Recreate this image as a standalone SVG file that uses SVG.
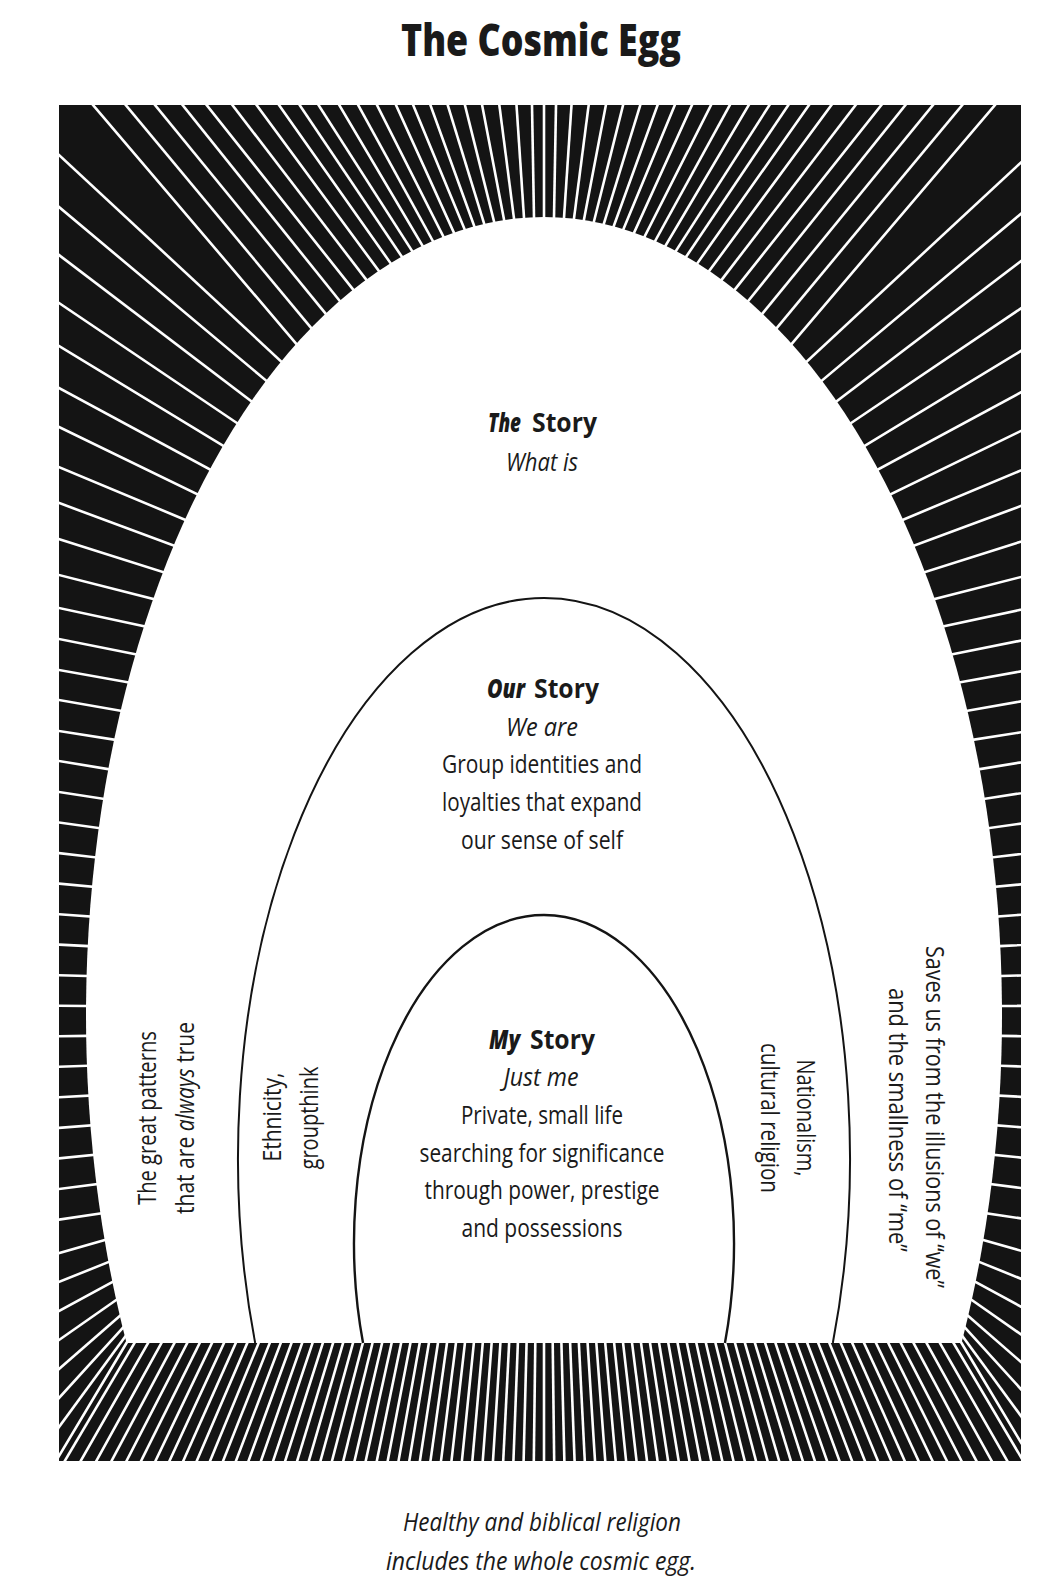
<svg xmlns="http://www.w3.org/2000/svg" width="1063" height="1594" viewBox="0 0 1063 1594">
<style>
.t{font-family:"Open Sans","Noto Sans","Liberation Sans",sans-serif;fill:#1a1a1a}
.title{font-size:44px;font-weight:800}
.head{font-size:27px;font-weight:700}
.bi{font-size:27px;font-style:italic;font-weight:800}
.body{font-size:26px;font-weight:400}
.it{font-style:italic}
.egg{fill:none;stroke:#141414}
</style>
<defs>
<clipPath id="frameClip"><rect x="59" y="105" width="962" height="1356"/></clipPath>
<line id="fanRay" x1="544" y1="650" x2="544" y2="1700"/>
</defs>
<rect width="1063" height="1594" fill="#fff"/>
<text class="t title" x="541" y="56" text-anchor="middle" textLength="280" lengthAdjust="spacingAndGlyphs">The Cosmic Egg</text>
<g id="frame">
<rect x="59" y="105" width="962" height="1356" fill="#141414"/>
</g>
<g id="sunburst" clip-path="url(#frameClip)" stroke="#fff" stroke-width="2.6" stroke-linecap="square" fill="none">
<g id="raysLeft">
<line x1="534.0" y1="217.2" x2="531.6" y2="82.6"/>
<line x1="524.0" y1="217.8" x2="515.0" y2="82.4"/>
<line x1="514.0" y1="218.7" x2="496.4" y2="82.3"/>
<line x1="504.1" y1="220.0" x2="477.7" y2="82.0"/>
<line x1="494.1" y1="221.7" x2="459.1" y2="81.7"/>
<line x1="484.2" y1="223.8" x2="440.4" y2="81.2"/>
<line x1="474.3" y1="226.3" x2="421.6" y2="80.7"/>
<line x1="464.5" y1="229.1" x2="402.9" y2="80.2"/>
<line x1="453.9" y1="232.6" x2="384.4" y2="79.5"/>
<line x1="443.3" y1="236.5" x2="363.7" y2="78.7"/>
<line x1="432.8" y1="240.9" x2="343.2" y2="77.8"/>
<line x1="422.4" y1="245.6" x2="322.6" y2="76.9"/>
<line x1="412.0" y1="250.9" x2="299.8" y2="75.8"/>
<line x1="401.7" y1="256.5" x2="279.2" y2="74.7"/>
<line x1="390.5" y1="263.1" x2="256.7" y2="73.4"/>
<line x1="378.7" y1="270.8" x2="232.1" y2="71.8"/>
<line x1="366.2" y1="279.6" x2="205.6" y2="70.1"/>
<line x1="353.2" y1="289.6" x2="177.3" y2="68.1"/>
<line x1="339.6" y1="300.8" x2="151.1" y2="65.8"/>
<line x1="325.6" y1="313.6" x2="120.9" y2="63.3"/>
<line x1="311.1" y1="327.8" x2="88.6" y2="60.4"/>
<line x1="296.3" y1="343.8" x2="52.3" y2="57.2"/>
<line x1="281.2" y1="361.5" x2="14.6" y2="113.7"/>
<line x1="266.1" y1="380.6" x2="17.6" y2="172.3"/>
<line x1="251.3" y1="401.3" x2="20.5" y2="225.7"/>
<line x1="236.9" y1="423.0" x2="23.4" y2="279.0"/>
<line x1="223.0" y1="445.7" x2="26.2" y2="326.1"/>
<line x1="209.7" y1="469.4" x2="28.9" y2="371.7"/>
<line x1="197.0" y1="494.1" x2="31.4" y2="413.6"/>
<line x1="184.9" y1="519.7" x2="33.8" y2="456.5"/>
<line x1="173.7" y1="545.5" x2="36.1" y2="494.5"/>
<line x1="163.0" y1="572.1" x2="38.2" y2="532.4"/>
<line x1="153.2" y1="598.9" x2="40.2" y2="570.2"/>
<line x1="144.0" y1="626.3" x2="42.0" y2="604.3"/>
<line x1="135.4" y1="654.3" x2="43.7" y2="635.9"/>
<line x1="127.7" y1="682.3" x2="45.3" y2="667.5"/>
<line x1="120.6" y1="710.8" x2="46.7" y2="697.8"/>
<line x1="114.1" y1="739.7" x2="48.0" y2="729.3"/>
<line x1="108.3" y1="769.1" x2="49.1" y2="759.4"/>
<line x1="103.1" y1="798.8" x2="50.2" y2="790.6"/>
<line x1="98.8" y1="828.0" x2="-677.0" y2="720.7"/>
<line x1="95.0" y1="857.3" x2="-687.2" y2="766.7"/>
<line x1="92.0" y1="886.7" x2="-695.7" y2="813.1"/>
<line x1="89.5" y1="916.4" x2="-702.4" y2="859.8"/>
<line x1="87.7" y1="946.1" x2="-707.3" y2="906.6"/>
<line x1="86.5" y1="976.0" x2="-710.5" y2="953.6"/>
<line x1="86.0" y1="1006.0" x2="-711.9" y2="1000.8"/>
<line x1="86.2" y1="1035.9" x2="-711.6" y2="1047.9"/>
<line x1="86.9" y1="1065.8" x2="-709.5" y2="1095.0"/>
<line x1="88.3" y1="1095.6" x2="-705.6" y2="1141.9"/>
<line x1="90.4" y1="1125.4" x2="-699.9" y2="1188.7"/>
<line x1="93.1" y1="1154.9" x2="-692.5" y2="1235.3"/>
<line x1="96.4" y1="1184.3" x2="-683.4" y2="1281.5"/>
<line x1="100.4" y1="1213.5" x2="-672.5" y2="1327.4"/>
<line x1="50" y1="1255.6" x2="110.6" y2="1238.3"/>
<line x1="50" y1="1285.6" x2="114.5" y2="1259.6"/>
<line x1="50" y1="1315.9" x2="118.4" y2="1278.7"/>
<line x1="50" y1="1346.3" x2="121.2" y2="1296.5"/>
<line x1="50" y1="1376.8" x2="124.8" y2="1311.6"/>
<line x1="50" y1="1407.9" x2="126.7" y2="1323.6"/>
<line x1="50" y1="1439.3" x2="128.9" y2="1331.5"/>
<line x1="50" y1="1471" x2="130" y2="1337.1"/>
</g>
<use href="#raysLeft" transform="matrix(-1 0 0 1 1088 0)"/>
<line x1="544" y1="217" x2="544" y2="80"/>
<g id="fanLeft">
<use href="#fanRay" transform="rotate(0.72 544 650)"/>
<use href="#fanRay" transform="rotate(1.44 544 650)"/>
<use href="#fanRay" transform="rotate(2.16 544 650)"/>
<use href="#fanRay" transform="rotate(2.88 544 650)"/>
<use href="#fanRay" transform="rotate(3.6 544 650)"/>
<use href="#fanRay" transform="rotate(4.32 544 650)"/>
<use href="#fanRay" transform="rotate(5.05 544 650)"/>
<use href="#fanRay" transform="rotate(5.78 544 650)"/>
<use href="#fanRay" transform="rotate(6.51 544 650)"/>
<use href="#fanRay" transform="rotate(7.24 544 650)"/>
<use href="#fanRay" transform="rotate(7.97 544 650)"/>
<use href="#fanRay" transform="rotate(8.7 544 650)"/>
<use href="#fanRay" transform="rotate(9.43 544 650)"/>
<use href="#fanRay" transform="rotate(10.17 544 650)"/>
<use href="#fanRay" transform="rotate(10.91 544 650)"/>
<use href="#fanRay" transform="rotate(11.65 544 650)"/>
<use href="#fanRay" transform="rotate(12.4 544 650)"/>
<use href="#fanRay" transform="rotate(13.15 544 650)"/>
<use href="#fanRay" transform="rotate(13.9 544 650)"/>
<use href="#fanRay" transform="rotate(14.65 544 650)"/>
<use href="#fanRay" transform="rotate(15.41 544 650)"/>
<use href="#fanRay" transform="rotate(16.17 544 650)"/>
<use href="#fanRay" transform="rotate(16.93 544 650)"/>
<use href="#fanRay" transform="rotate(17.7 544 650)"/>
<use href="#fanRay" transform="rotate(18.47 544 650)"/>
<use href="#fanRay" transform="rotate(19.24 544 650)"/>
<use href="#fanRay" transform="rotate(20.02 544 650)"/>
<use href="#fanRay" transform="rotate(20.8 544 650)"/>
<use href="#fanRay" transform="rotate(21.59 544 650)"/>
<use href="#fanRay" transform="rotate(22.38 544 650)"/>
<use href="#fanRay" transform="rotate(23.18 544 650)"/>
<use href="#fanRay" transform="rotate(23.98 544 650)"/>
<use href="#fanRay" transform="rotate(24.79 544 650)"/>
<use href="#fanRay" transform="rotate(25.6 544 650)"/>
<use href="#fanRay" transform="rotate(26.42 544 650)"/>
<use href="#fanRay" transform="rotate(27.24 544 650)"/>
<use href="#fanRay" transform="rotate(28.07 544 650)"/>
<use href="#fanRay" transform="rotate(28.9 544 650)"/>
<use href="#fanRay" transform="rotate(29.74 544 650)"/>
<use href="#fanRay" transform="rotate(30.58 544 650)"/>
</g>
<use href="#fanLeft" transform="matrix(-1 0 0 1 1088 0)"/>
<use href="#fanRay"/>
</g>
<g id="egg-the-story">
<path d="M126.48 1343 A458 798 0 1 1 961.52 1343 Z" fill="#fff"/>
<text class="t bi" x="521" y="432" text-anchor="end" textLength="33" lengthAdjust="spacingAndGlyphs">The</text>
<text class="t head" x="532" y="432" textLength="65" lengthAdjust="spacingAndGlyphs">Story</text>
<text class="t body it" x="542" y="471" text-anchor="middle" textLength="72" lengthAdjust="spacingAndGlyphs">What is</text>
<text class="t body" transform="translate(156 1118) rotate(-90)" text-anchor="middle" textLength="174" lengthAdjust="spacingAndGlyphs">The great patterns</text>
<text class="t body" transform="translate(194 1118) rotate(-90)" text-anchor="middle" textLength="192" lengthAdjust="spacingAndGlyphs">that are <tspan class="it">always</tspan> true</text>
<text class="t body" transform="translate(926 1117) rotate(90)" text-anchor="middle" textLength="342" lengthAdjust="spacingAndGlyphs">Saves us from the illusions of “we”</text>
<text class="t body" transform="translate(889 1120) rotate(90)" text-anchor="middle" textLength="264" lengthAdjust="spacingAndGlyphs">and the smallness of “me”</text>
</g>
<g id="egg-our-story">
<path class="egg" stroke-width="2" d="M255.18 1343 A306 560 0 1 1 832.82 1343"/>
<text class="t bi" x="525" y="698" text-anchor="end" textLength="38" lengthAdjust="spacingAndGlyphs">Our</text>
<text class="t head" x="534" y="698" textLength="65" lengthAdjust="spacingAndGlyphs">Story</text>
<text class="t body it" x="542" y="736" text-anchor="middle" textLength="72" lengthAdjust="spacingAndGlyphs">We are</text>
<text class="t body" x="542" y="773" text-anchor="middle" textLength="200" lengthAdjust="spacingAndGlyphs">Group identities and</text>
<text class="t body" x="542" y="811" text-anchor="middle" textLength="200" lengthAdjust="spacingAndGlyphs">loyalties that expand</text>
<text class="t body" x="542" y="849" text-anchor="middle" textLength="162" lengthAdjust="spacingAndGlyphs">our sense of self</text>
<text class="t body" transform="translate(281 1117) rotate(-90)" text-anchor="middle" textLength="89" lengthAdjust="spacingAndGlyphs">Ethnicity,</text>
<text class="t body" transform="translate(318 1118) rotate(-90)" text-anchor="middle" textLength="103" lengthAdjust="spacingAndGlyphs">groupthink</text>
<text class="t body" transform="translate(797 1118) rotate(90)" text-anchor="middle" textLength="117" lengthAdjust="spacingAndGlyphs">Nationalism,</text>
<text class="t body" transform="translate(761 1118) rotate(90)" text-anchor="middle" textLength="150" lengthAdjust="spacingAndGlyphs">cultural religion</text>
</g>
<g id="egg-my-story">
<path class="egg" stroke-width="2.4" d="M363.05 1343 A190 328 0 1 1 724.95 1343"/>
<text class="t bi" x="520" y="1049" text-anchor="end" textLength="31" lengthAdjust="spacingAndGlyphs">My</text>
<text class="t head" x="530" y="1049" textLength="65" lengthAdjust="spacingAndGlyphs">Story</text>
<text class="t body it" x="541" y="1086" text-anchor="middle" textLength="75" lengthAdjust="spacingAndGlyphs">Just me</text>
<text class="t body" x="542" y="1124" text-anchor="middle" textLength="162" lengthAdjust="spacingAndGlyphs">Private, small life</text>
<text class="t body" x="542" y="1162" text-anchor="middle" textLength="245" lengthAdjust="spacingAndGlyphs">searching for significance</text>
<text class="t body" x="542" y="1199" text-anchor="middle" textLength="235" lengthAdjust="spacingAndGlyphs">through power, prestige</text>
<text class="t body" x="542" y="1237" text-anchor="middle" textLength="161" lengthAdjust="spacingAndGlyphs">and possessions</text>
</g>
<g id="caption">
<text class="t body it" x="542" y="1531" text-anchor="middle" textLength="278" lengthAdjust="spacingAndGlyphs">Healthy and biblical religion</text>
<text class="t body it" x="541" y="1570" text-anchor="middle" textLength="310" lengthAdjust="spacingAndGlyphs">includes the whole cosmic egg.</text>
</g>
</svg>
